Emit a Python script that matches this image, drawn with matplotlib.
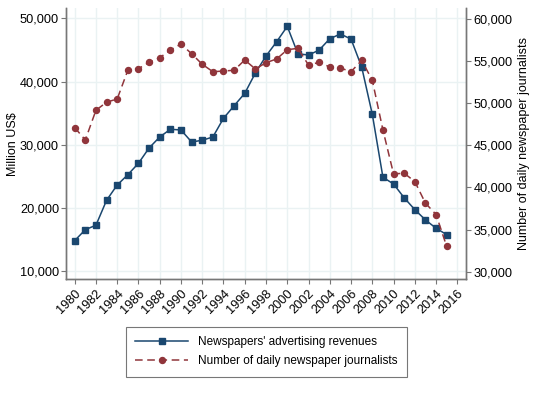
import matplotlib
matplotlib.use("Agg")
import matplotlib.pyplot as plt
from matplotlib.ticker import FuncFormatter

plt.rcParams['font.family'] = ['Liberation Sans', 'DejaVu Sans']

years = list(range(1980, 2016))
# advertising revenues, million US$
revenues = [14810, 16550, 17250, 21200, 23620, 25250, 27060, 29480, 31220, 32440,
            32330, 30430, 30700, 31220, 34180, 36170, 38130, 41350, 44040, 46300,
            48730, 44400, 44190, 44980, 46780, 47520, 46720, 42300, 34810, 24840,
            23780, 21590, 19720, 18090, 16770, 15760]
# number of daily newspaper journalists
journalists = [47085, 45630, 49150, 50100, 50490, 53890, 54080, 54830, 55380, 56290,
               57000, 55850, 54600, 53720, 53800, 53890, 55110, 54040, 54790, 55230,
               56330, 56490, 54510, 54830, 54280, 54160, 53720, 55070, 52700, 46810,
               41600, 41680, 40690, 38130, 36780, 32990]
x_ticks = list(range(1980, 2017, 2))
left_ticks = [10000, 20000, 30000, 40000, 50000]
right_ticks = [30000, 35000, 40000, 45000, 50000, 55000, 60000]

blue = '#1a476f'
red = '#90353b'
grid_col = '#eaf2f3'
spine_col = '#777777'
comma = FuncFormatter(lambda v, p: f'{int(v):,}')

fig = plt.figure(figsize=(5.43, 3.99), dpi=100)
ax = fig.add_axes([0.1215, 0.300, 0.7362, 0.679])
ax2 = ax.twinx()

l1, = ax.plot(years, revenues, color=blue, lw=1.1, marker='s', markersize=4.3,
              label="Newspapers' advertising revenues", zorder=3)
l2, = ax2.plot(years, journalists, color=red, lw=1.1, ls=(0, (5, 3)), marker='o',
               markersize=4.3, label='Number of daily newspaper journalists', zorder=3)

ax.set_xlim(1979.18, 2016.79)
ax.set_ylim(8690, 51580)
ax2.set_ylim(29100, 61230)

ax.set_xticks(x_ticks)
ax.set_xticklabels([str(y) for y in x_ticks], rotation=45, ha='right',
                   rotation_mode='anchor', fontsize=9.2)
ax.set_yticks(left_ticks)
ax2.set_yticks(right_ticks)
ax.yaxis.set_major_formatter(comma)
ax2.yaxis.set_major_formatter(comma)
ax.tick_params(axis='y', labelsize=9.2, length=3.5, pad=1.5, color=spine_col)
ax.tick_params(axis='x', length=3.5, pad=2.5, color=spine_col)
ax2.tick_params(axis='y', labelsize=9.2, length=3.5, pad=2, color=spine_col)

ax.grid(True, color=grid_col, lw=1.0)
ax.set_axisbelow(True)

for a in (ax, ax2):
    a.spines['top'].set_visible(False)
    for s in ('left', 'right', 'bottom'):
        a.spines[s].set_color(spine_col)
        a.spines[s].set_linewidth(1.0)

ax.set_ylabel('Million US$', fontsize=9)
ax2.set_ylabel('Number of daily newspaper journalists', fontsize=9)
ax.yaxis.set_label_coords(-0.117, 0.5)
ax2.yaxis.set_label_coords(1.131, 0.5)

leg = fig.legend(handles=[l1, l2], loc='center', bbox_to_anchor=(0.49, 0.118),
                 fontsize=8.5, frameon=True, fancybox=False, handlelength=4.5,
                 borderpad=0.8, labelspacing=0.6)
leg.get_frame().set_edgecolor('#555555')
leg.get_frame().set_linewidth(0.8)

fig.savefig('out.png', dpi=100)
